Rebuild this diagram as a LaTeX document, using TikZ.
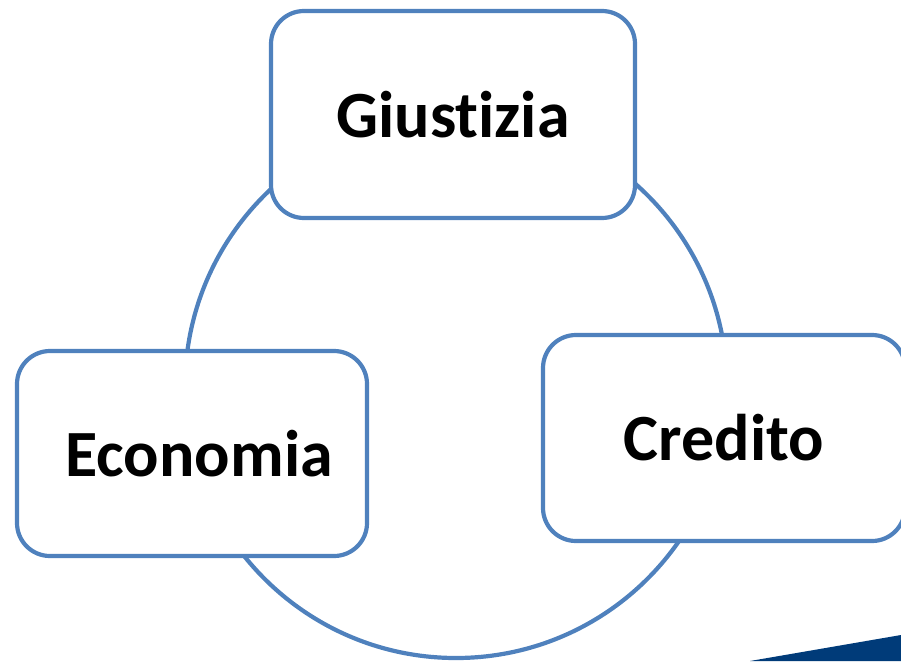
\documentclass[tikz,border=0pt]{standalone}
\usepackage{fontspec}
\setmainfont{Carlito}[Ligatures={NoCommon,NoRequired,NoContextual}]
\usepackage{tikz}
\definecolor{bordoblu}{HTML}{4F81BD}
\definecolor{bluscuro}{RGB}{0,59,121}
\tikzset{
    %Define style for the ring
    anello/.style={
           circle,
           draw=bordoblu, line width=4.2pt,
           minimum size=542pt,
           inner sep=0pt},
    %Define style for boxes
    riquadro/.style={
    rectangle,
    rounded corners=33pt,
    fill=white,
    draw=bordoblu, line width=4.2pt,
    font=\fontsize{66}{78}\selectfont\bfseries,
    text centered}
}

\begin{document}
\begin{tikzpicture}[x=1pt,y=-1pt]
\useasboundingbox (0,0) rectangle (901,661);
\clip (0,0) rectangle (901,661);

 %ring behind the boxes
\node[anello](ring) at (456,387){};

 %boxes
\node[riquadro, minimum width=364pt, minimum height=207pt](giustizia) at (453,114.5){Giustizia};
\node[riquadro, minimum width=350pt, minimum height=205pt](economia) at (192,453.5){\hspace*{14pt}Economia};
\node[riquadro, minimum width=362pt, minimum height=206pt](credito) at (724,438){Credito};

 %corner strip
\fill[bluscuro] (750,661) -- (901,635) -- (901,661) -- cycle;
\end{tikzpicture}
\end{document}
